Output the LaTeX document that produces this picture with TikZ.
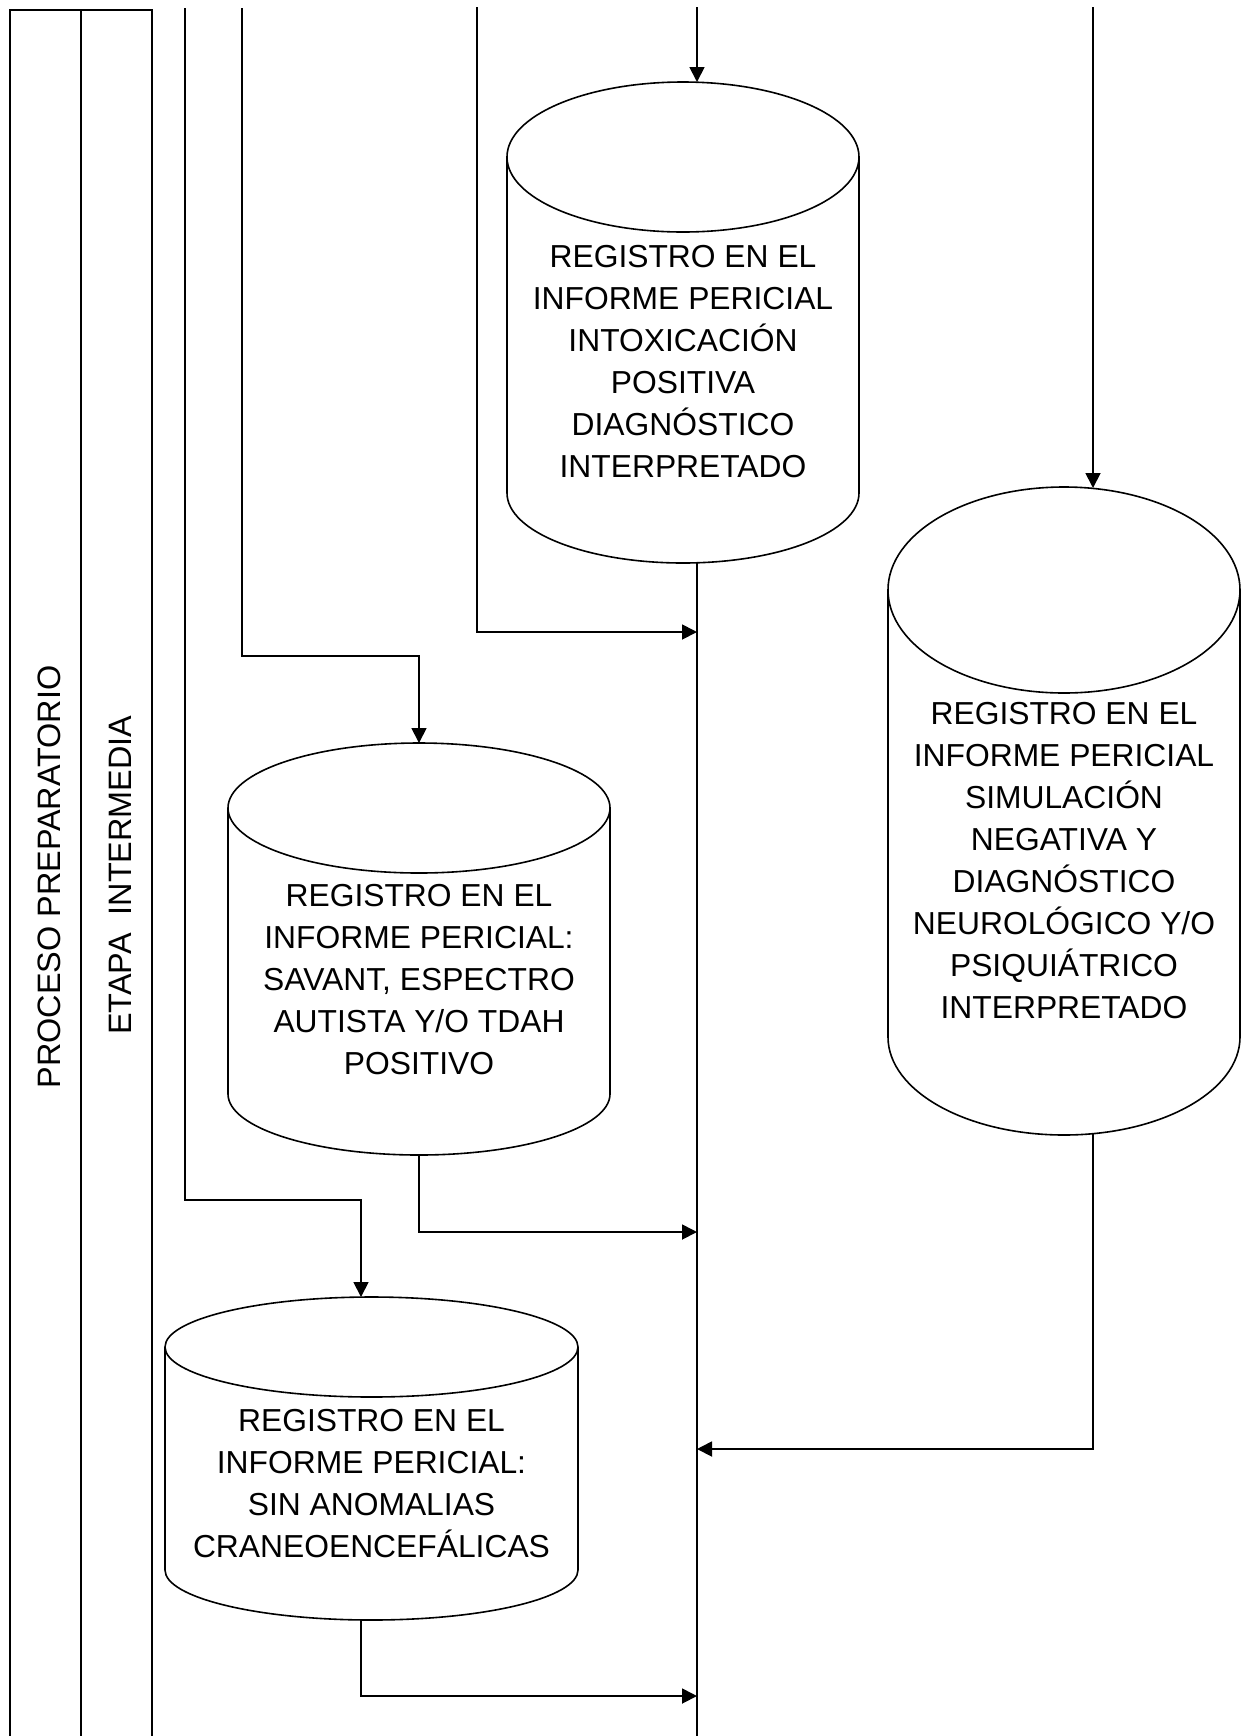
\documentclass[tikz,border=0pt]{standalone}
\usepackage{fontspec}
\setmainfont{Liberation Sans}
\usetikzlibrary{arrows.meta}
\tikzset{
  lane/.style={line width=0.8pt},
  cyl/.style={line width=0.8pt},
  flow/.style={line width=0.9pt, -{Triangle[length=7.5pt,width=7.5pt]}},
  plain/.style={line width=0.9pt},
  boxtext/.style={align=center, inner sep=0pt, anchor=north, font=\fontsize{15.9}{21}\selectfont},
  lanetext/.style={rotate=90, inner sep=0pt, font=\fontsize{16.2}{19}\selectfont}
}
\begin{document}
\begin{tikzpicture}[x=0.5pt,y=-0.5pt]
\useasboundingbox (0,0) rectangle (1248,1736);
% swimlanes
\draw[lane] (10,1736) -- (10,10) -- (152,10) -- (152,1736);
\draw[lane] (81,10) -- (81,1736);
\node[lanetext] (proc) at (49,877) {PROCESO PREPARATORIO};
\node[lanetext] (etapa) at (120,875) {ETAPA\ \ INTERMEDIA};

% cylinder 1: intoxicacion
\draw[cyl] (683,157) ellipse [x radius=176, y radius=75];
\draw[cyl] (507,157) -- (507,493) arc [start angle=180, end angle=0, x radius=176, y radius=70] -- (859,157);
\node[boxtext] (t1) at (683,245) {REGISTRO EN EL\\INFORME PERICIAL\\INTOXICACIÓN\\POSITIVA\\DIAGNÓSTICO\\INTERPRETADO};
\coordinate (c1t) at (697,82);
\coordinate (c1b) at (697,563);

% cylinder 2: simulacion
\draw[cyl] (1064,590) ellipse [x radius=176, y radius=103];
\draw[cyl] (888,590) -- (888,1037) arc [start angle=180, end angle=0, x radius=176, y radius=98] -- (1240,590);
\node[boxtext] (t2) at (1064,702) {REGISTRO EN EL\\INFORME PERICIAL\\SIMULACIÓN\\NEGATIVA Y\\DIAGNÓSTICO\\NEUROLÓGICO Y/O\\PSIQUIÁTRICO\\INTERPRETADO};
\coordinate (c2t) at (1093,488);
\coordinate (c2b) at (1093,1134);

% cylinder 3: savant
\draw[cyl] (419,808) ellipse [x radius=191, y radius=65];
\draw[cyl] (228,808) -- (228,1094) arc [start angle=180, end angle=0, x radius=191, y radius=61] -- (610,808);
\node[boxtext] (t3) at (419,884) {REGISTRO EN EL\\INFORME PERICIAL:\\SAVANT, ESPECTRO\\AUTISTA Y/O TDAH\\POSITIVO};
\coordinate (c3t) at (419,743);
\coordinate (c3b) at (419,1155);

% cylinder 4: sin anomalias
\draw[cyl] (371.5,1347) ellipse [x radius=206.5, y radius=50];
\draw[cyl] (165,1347) -- (165,1570) arc [start angle=180, end angle=0, x radius=206.5, y radius=50] -- (578,1347);
\node[boxtext] (t4) at (371.5,1409) {REGISTRO EN EL\\INFORME PERICIAL:\\SIN ANOMALIAS\\CRANEOENCEFÁLICAS};
\coordinate (c4t) at (361,1297);
\coordinate (c4b) at (361,1620);

% free ends and junctions
\coordinate (inA) at (185,8);
\coordinate (inB) at (242,8);
\coordinate (inC) at (477,7);
\coordinate (inD) at (697,7);
\coordinate (inE) at (1093,7);
\coordinate (bA) at (185,1200);
\coordinate (bB) at (242,656);
\coordinate (j1) at (697,632);
\coordinate (j2) at (697,1232);
\coordinate (j3) at (697,1449);
\coordinate (j4) at (697,1696);
\coordinate (mainEnd) at (697,1736);

% connectors
\draw[flow] (inD) -- (c1t);
\draw[plain] (c1b) -- (mainEnd);
\draw[flow] (inC) |- (j1);
\draw[flow] (inB) -- (bB) -| (c3t);
\draw[flow] (inA) -- (bA) -| (c4t);
\draw[flow] (inE) -- (c2t);
\draw[flow] (c3b) |- (j2);
\draw[flow] (c2b) |- (j3);
\draw[flow] (c4b) |- (j4);
\end{tikzpicture}
\end{document}
